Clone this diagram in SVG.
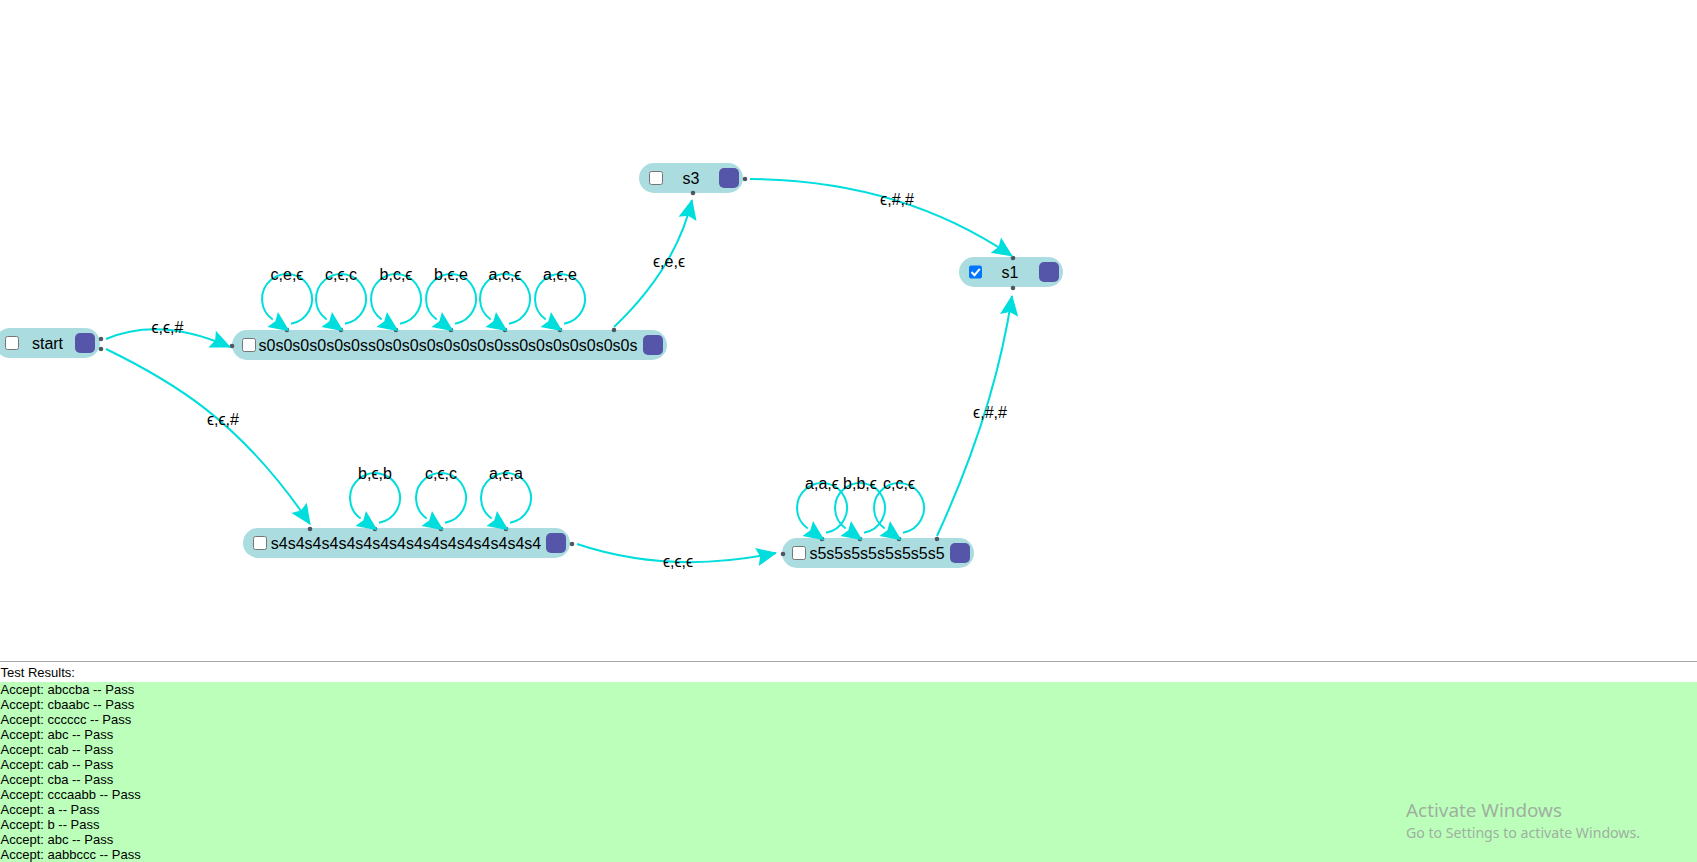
<svg xmlns="http://www.w3.org/2000/svg" width="1697" height="862" viewBox="0 0 1697 862">
<style>
.pill{fill:#abdde0}
.cb{fill:#fff;stroke:#767676;stroke-width:1}
.term{fill:#5555aa}
.dot{fill:#4e5661}
.name{font-family:"Liberation Sans",Arial,sans-serif;font-size:16px;fill:#000;text-anchor:middle}
.edge{fill:none;stroke:#00dddd;stroke-width:2}
.lbl{font-family:"Liberation Sans","DejaVu Sans",sans-serif;font-size:16px;fill:#000;text-anchor:middle}
.res{font-family:"Liberation Sans",Arial,sans-serif;font-size:13px;fill:#000}
.win{font-family:"Noto Sans","Open Sans",sans-serif;fill:#9fb09f}
</style>
<defs>
<marker id="arrow" markerUnits="userSpaceOnUse" markerWidth="26" markerHeight="26" refX="18" refY="0" orient="auto" overflow="visible" viewBox="-2 -11 24 22">
<path d="M0,-8.5 L19,0 L0,8.5 L3,0 Z" fill="#00dddd"/>
</marker>
<marker id="arrowL" markerUnits="userSpaceOnUse" markerWidth="26" markerHeight="26" refX="0" refY="0" orient="auto" overflow="visible" viewBox="-2 -11 24 22">
<path d="M0,-8.5 L19,0 L0,8.5 L3,0 Z" fill="#00dddd"/>
</marker>
</defs>
<rect x="0" y="0" width="1697" height="862" fill="#fff"/>

<g id="node-start">
<rect class="pill" x="-5" y="328" width="105" height="30" rx="15"/>
<rect class="cb" x="5.5" y="336.5" width="13" height="13" rx="2"/>
<text class="name" x="47.5" y="349">start</text>
<rect class="term" x="75" y="333" width="20" height="20" rx="5"/>
<circle class="dot" cx="101" cy="339" r="2.3"/>
<circle class="dot" cx="101" cy="349" r="2.3"/>
</g>

<g id="node-s0">
<rect class="pill" x="232" y="330" width="435" height="30" rx="15"/>
<rect class="cb" x="242.5" y="338.5" width="13" height="13" rx="2"/>
<text class="name" x="448" y="351">s0s0s0s0s0s0ss0s0s0s0s0s0s0s0ss0s0s0s0s0s0s0s</text>
<rect class="term" x="643" y="335" width="20" height="20" rx="5"/>
<circle class="dot" cx="232" cy="346" r="2.3"/>
<circle class="dot" cx="287" cy="330" r="2.3"/>
<circle class="dot" cx="341" cy="330" r="2.3"/>
<circle class="dot" cx="396" cy="330" r="2.3"/>
<circle class="dot" cx="451" cy="330" r="2.3"/>
<circle class="dot" cx="505" cy="330" r="2.3"/>
<circle class="dot" cx="560" cy="330" r="2.3"/>
<circle class="dot" cx="614" cy="330" r="2.3"/>
</g>

<g id="node-s3">
<rect class="pill" x="639" y="163" width="104" height="30" rx="15"/>
<rect class="cb" x="649.5" y="171.5" width="13" height="13" rx="2"/>
<text class="name" x="691" y="184">s3</text>
<rect class="term" x="719" y="168" width="20" height="20" rx="5"/>
<circle class="dot" cx="745" cy="179" r="2.3"/>
<circle class="dot" cx="693" cy="193" r="2.3"/>
</g>

<g id="node-s1">
<rect class="pill" x="959" y="257" width="104" height="30" rx="15"/>
<rect x="969" y="265.5" width="13" height="13" rx="2" fill="#0075ff"/>
<path d="M971.5,272 L974.5,275.2 L979.8,268.8" fill="none" stroke="#fff" stroke-width="2"/>
<text class="name" x="1010" y="278">s1</text>
<rect class="term" x="1039" y="262" width="20" height="20" rx="5"/>
<circle class="dot" cx="1013" cy="258" r="2.3"/>
<circle class="dot" cx="1013" cy="288" r="2.3"/>
</g>

<g id="node-s4">
<rect class="pill" x="243" y="528" width="327" height="30" rx="15"/>
<rect class="cb" x="253.5" y="536.5" width="13" height="13" rx="2"/>
<text class="name" x="406" y="549">s4s4s4s4s4s4s4s4s4s4s4s4s4s4s4s4</text>
<rect class="term" x="546" y="533" width="20" height="20" rx="5"/>
<circle class="dot" cx="572" cy="544" r="2.3"/>
<circle class="dot" cx="310" cy="529" r="2.3"/>
<circle class="dot" cx="375" cy="529" r="2.3"/>
<circle class="dot" cx="441" cy="529" r="2.3"/>
<circle class="dot" cx="506" cy="529" r="2.3"/>
</g>

<g id="node-s5">
<rect class="pill" x="782" y="538" width="192" height="30" rx="15"/>
<rect class="cb" x="792.5" y="546.5" width="13" height="13" rx="2"/>
<text class="name" x="877" y="559">s5s5s5s5s5s5s5s5</text>
<rect class="term" x="950" y="543" width="20" height="20" rx="5"/>
<circle class="dot" cx="783" cy="554" r="2.3"/>
<circle class="dot" cx="822" cy="539" r="2.3"/>
<circle class="dot" cx="860" cy="539" r="2.3"/>
<circle class="dot" cx="899" cy="539" r="2.3"/>
<circle class="dot" cx="937" cy="539" r="2.3"/>
</g>

<g id="connectors">
<path class="edge" marker-end="url(#arrow)" d="M106,339 Q160,316 230,347"/>
<text class="lbl" x="167.5" y="333">ϵ,ϵ,#</text>
<path class="edge" marker-end="url(#arrow)" d="M106,349 C170,380 240,420 310,524"/>
<text class="lbl" x="223" y="425">ϵ,ϵ,#</text>
<path class="edge" marker-end="url(#arrow)" d="M614,327 Q676,268 692,200"/>
<text class="lbl" x="669" y="267">ϵ,e,ϵ</text>
<path class="edge" marker-end="url(#arrow)" d="M750,179 Q900,180 1012,256"/>
<text class="lbl" x="897" y="205">ϵ,#,#</text>
<path class="edge" marker-end="url(#arrow)" d="M577,544 Q670,575 776,553"/>
<text class="lbl" x="678" y="567">ϵ,ϵ,ϵ</text>
<path class="edge" marker-end="url(#arrow)" d="M937,536 Q995,410 1012,296"/>
<text class="lbl" x="990" y="418">ϵ,#,#</text>

<path class="edge" marker-end="url(#arrowL)" d="M291,323.7 A25,25 0 1 0 272.7,319.5"/>
<text class="lbl" x="287" y="280">c,e,ϵ</text>
<path class="edge" marker-end="url(#arrowL)" d="M345,323.7 A25,25 0 1 0 326.7,319.5"/>
<text class="lbl" x="341" y="280">c,ϵ,c</text>
<path class="edge" marker-end="url(#arrowL)" d="M400,323.7 A25,25 0 1 0 381.7,319.5"/>
<text class="lbl" x="396" y="280">b,c,ϵ</text>
<path class="edge" marker-end="url(#arrowL)" d="M455,323.7 A25,25 0 1 0 436.7,319.5"/>
<text class="lbl" x="451" y="280">b,ϵ,e</text>
<path class="edge" marker-end="url(#arrowL)" d="M509,323.7 A25,25 0 1 0 490.7,319.5"/>
<text class="lbl" x="505" y="280">a,c,ϵ</text>
<path class="edge" marker-end="url(#arrowL)" d="M564,323.7 A25,25 0 1 0 545.7,319.5"/>
<text class="lbl" x="560" y="280">a,ϵ,e</text>

<path class="edge" marker-end="url(#arrowL)" d="M379,522.7 A25,25 0 1 0 360.7,518.5"/>
<text class="lbl" x="375" y="479">b,ϵ,b</text>
<path class="edge" marker-end="url(#arrowL)" d="M445,522.7 A25,25 0 1 0 426.7,518.5"/>
<text class="lbl" x="441" y="479">c,ϵ,c</text>
<path class="edge" marker-end="url(#arrowL)" d="M510,522.7 A25,25 0 1 0 491.7,518.5"/>
<text class="lbl" x="506" y="479">a,ϵ,a</text>

<path class="edge" marker-end="url(#arrowL)" d="M826,532.7 A25,25 0 1 0 807.7,528.5"/>
<text class="lbl" x="822" y="489">a,a,ϵ</text>
<path class="edge" marker-end="url(#arrowL)" d="M864,532.7 A25,25 0 1 0 845.7,528.5"/>
<text class="lbl" x="860" y="489">b,b,ϵ</text>
<path class="edge" marker-end="url(#arrowL)" d="M903,532.7 A25,25 0 1 0 884.7,528.5"/>
<text class="lbl" x="899" y="489">c,c,ϵ</text>
</g>

<g id="results">
<rect x="0" y="661" width="1697" height="1" fill="#a8a8a8"/>
<text class="res" x="0.5" y="677">Test Results:</text>
<rect x="0" y="682" width="1697" height="180" fill="#bbffbb"/>
<text class="res" x="0.5" y="694">Accept: abccba -- Pass</text>
<text class="res" x="0.5" y="709">Accept: cbaabc -- Pass</text>
<text class="res" x="0.5" y="724">Accept: cccccc -- Pass</text>
<text class="res" x="0.5" y="739">Accept: abc -- Pass</text>
<text class="res" x="0.5" y="754">Accept: cab -- Pass</text>
<text class="res" x="0.5" y="769">Accept: cab -- Pass</text>
<text class="res" x="0.5" y="784">Accept: cba -- Pass</text>
<text class="res" x="0.5" y="799">Accept: cccaabb -- Pass</text>
<text class="res" x="0.5" y="814">Accept: a -- Pass</text>
<text class="res" x="0.5" y="829">Accept: b -- Pass</text>
<text class="res" x="0.5" y="844">Accept: abc -- Pass</text>
<text class="res" x="0.5" y="859">Accept: aabbccc -- Pass</text>
<text class="win" x="1406" y="817" font-size="18" textLength="156" lengthAdjust="spacingAndGlyphs">Activate Windows</text>
<text class="win" x="1406" y="838" font-size="14" textLength="234" lengthAdjust="spacingAndGlyphs">Go to Settings to activate Windows.</text>
</g>
</svg>
